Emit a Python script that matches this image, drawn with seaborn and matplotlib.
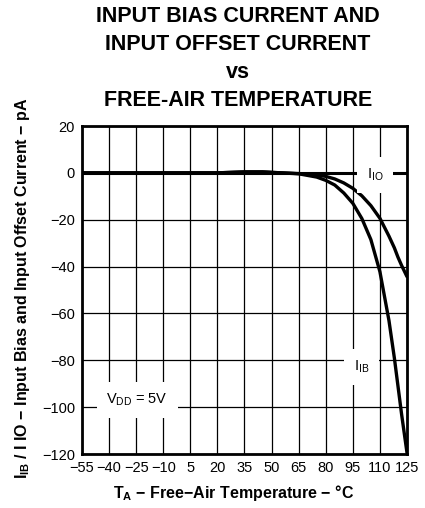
import numpy as np
import pandas as pd
import matplotlib
matplotlib.use("Agg")
import matplotlib.pyplot as plt
import seaborn as sns

# values
temp = [-55, -40, -25, -10, 5, 20, 35, 45, 50, 65, 75, 80, 85, 90, 95, 100, 105, 110, 115, 118, 120, 122, 125]
i_io = [0, 0, 0, 0, 0, 0, 0.4, 0.4, 0.2, -0.3, -0.9, -1.5, -2.6, -4.3, -6.6, -9.8, -14.0, -19.4, -27.0, -32.0, -36.0, -39.5, -44.3]
i_ib = [0, 0, 0, 0, 0, 0, 0.4, 0.4, 0.2, -0.4, -1.8, -3.2, -5.2, -8.6, -13.0, -19.5, -28.5, -42.2, -63.0, -79.0, -91.0, -103.0, -119.5]

xticks = list(range(-55, 126, 15))
yticks = list(range(-120, 21, 20))

df = pd.DataFrame({"T": temp * 2,
                   "I": i_io + i_ib,
                   "curve": ["IIO"] * len(temp) + ["IIB"] * len(temp)})

sns.set_style("white", {"text.color": "black", "axes.labelcolor": "black",
                        "xtick.color": "black", "ytick.color": "black"})
plt.rcParams['font.family'] = ['Liberation Sans', 'DejaVu Sans']
plt.rcParams['mathtext.fontset'] = 'custom'
plt.rcParams['mathtext.rm'] = 'Liberation Sans'
plt.rcParams['mathtext.bf'] = 'Liberation Sans:bold'

fig = plt.figure(figsize=(4.25, 5.08), dpi=100)
ax = fig.add_axes([82 / 425, 1 - 454 / 508, 325 / 425, 328 / 508])

for x in xticks:
    ax.axvline(x, color="black", lw=0.9, zorder=1)
for y in yticks:
    ax.axhline(y, color="black", lw=0.9, zorder=1)
ax.axhline(0, color="black", lw=2.2, zorder=2)

sns.lineplot(data=df, x="T", y="I", units="curve", estimator=None,
             color="black", lw=2.4, ax=ax, zorder=3)

ax.text(107.5, -0.9, r"I$_{\mathrm{IO}}$", fontsize=10.5, ha="center", va="center",
        bbox=dict(facecolor="white", edgecolor="none", pad=7), zorder=4)
ax.text(100, -82.8, r"I$_{\mathrm{IB}}$", fontsize=10.5, ha="center", va="center",
        bbox=dict(facecolor="white", edgecolor="none", pad=7), zorder=4)
ax.text(-41.5, -96.9, r"V$_{\mathrm{DD}}$ = 5V", fontsize=10.5, ha="left", va="center",
        bbox=dict(facecolor="white", edgecolor="none", pad=7), zorder=4)

ax.set_xlim(-55, 125)
ax.set_ylim(-120, 20)
ax.set_xticks(xticks)
ax.set_yticks(yticks)
ax.set_xticklabels([str(t).replace("-", "\u2212") for t in xticks])
ax.set_yticklabels([str(t).replace("-", "\u2212") for t in yticks])
ax.tick_params(length=0, labelsize=10.5, pad=5)
for s in ax.spines.values():
    s.set_visible(True)
    s.set_linewidth(2)
    s.set_color("black")
    s.set_zorder(5)

ax.set_xlabel("T$_\\mathbf{A}$ \u2212 Free\u2212Air Temperature \u2212 \u00b0C",
              fontsize=11.5, fontweight="bold")
ax.xaxis.set_label_coords(0.465, -29 / 328)
ax.set_ylabel("I$_\\mathbf{IB}$ / I IO \u2212 Input Bias and Input Offset Current \u2212 pA",
              fontsize=11.5, fontweight="bold")
ax.yaxis.set_label_coords(-50 / 325, 0.506)

title = ["INPUT BIAS CURRENT AND", "INPUT OFFSET CURRENT", "vs", "FREE-AIR TEMPERATURE"]
for line, ypix in zip(title, [17, 45, 73, 100]):
    fig.text(238 / 425, 1 - ypix / 508, line, fontsize=15.5, fontweight="bold", ha="center", va="center")

fig.savefig("out.png", dpi=100)
